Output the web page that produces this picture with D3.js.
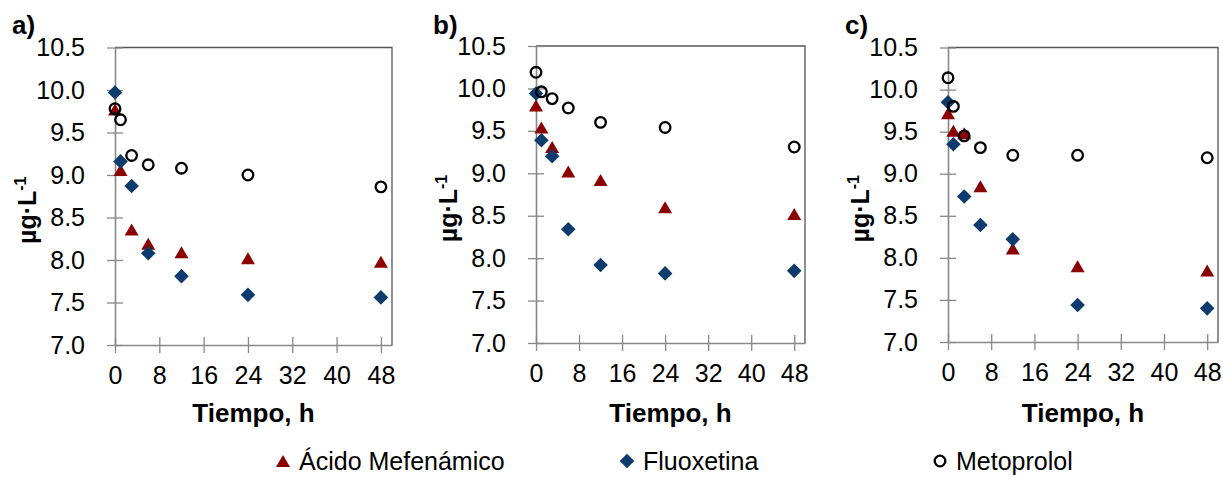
<!DOCTYPE html>
<html><head><meta charset="utf-8">
<script src="https://cdn.jsdelivr.net/npm/d3@7"></script>
<style>
html,body{margin:0;padding:0;background:#fff;}
text{font-family:"Liberation Sans",Arial,sans-serif;fill:#000;}
</style></head>
<body><svg id="chart" width="1223" height="477"></svg>
<script>
// ---- data ----
const times = [0, 1, 3, 6, 12, 24, 48];
const panelLabels = ["a)", "b)", "c)"];
const seriesNames = ["Ácido Mefenámico", "Fluoxetina", "Metoprolol"];
const xTicks = [0, 8, 16, 24, 32, 40, 48];
const yTicks = [7.0, 7.5, 8.0, 8.5, 9.0, 9.5, 10.0, 10.5];

const acidoA = [9.77, 9.06, 8.36, 8.19, 8.09, 8.02, 7.98];
const fluoxA = [9.97, 9.16, 8.87, 8.08, 7.81, 7.59, 7.56];
const metoA  = [9.78, 9.65, 9.23, 9.12, 9.08, 9.00, 8.86];

const acidoB = [9.80, 9.54, 9.31, 9.02, 8.92, 8.60, 8.52];
const fluoxB = [9.94, 9.39, 9.20, 8.34, 7.92, 7.82, 7.85];
const metoB  = [10.19, 9.96, 9.88, 9.77, 9.60, 9.54, 9.31];

const acidoC = [9.72, 9.51, 9.48, 8.85, 8.11, 7.90, 7.85];
const fluoxC = [9.85, 9.35, 8.73, 8.39, 8.22, 7.44, 7.40];
const metoC  = [10.14, 9.80, 9.45, 9.31, 9.22, 9.22, 9.19];

const panelData = [
  [acidoA, fluoxA, metoA],
  [acidoB, fluoxB, metoB],
  [acidoC, fluoxC, metoC]
];

// ---- layout ----
const boxes = [
  {l:115, r:392, t:47.5, b:345},
  {l:536, r:805, t:46, b:343},
  {l:948, r:1218, t:47.5, b:342}
];
const colors = ["#8B0000", "#0d3b6e", "#000"];
const svg = d3.select("#chart");
const FS = 25;

function drawMarker(g, type, x, y) {
  if (type === 0) {
    const s = 14, h = 12;
    g.append("path").attr("d", `M${x},${y-h/2}L${x+s/2},${y+h/2}L${x-s/2},${y+h/2}Z`)
      .attr("fill", colors[0]);
  } else if (type === 1) {
    const d = 7.3;
    g.append("path").attr("d", `M${x},${y-d}L${x+d},${y}L${x},${y+d}L${x-d},${y}Z`)
      .attr("fill", colors[1]);
  } else {
    g.append("circle").attr("cx", x).attr("cy", y).attr("r", 5.3)
      .attr("fill", "none").attr("stroke", "#000").attr("stroke-width", 2.3);
  }
}

boxes.forEach((bx, pi) => {
  const x = d3.scaleLinear().domain([0, 50]).range([bx.l, bx.r]);
  const y = d3.scaleLinear().domain([7, 10.5]).range([bx.b, bx.t]);
  const g = svg.append("g");

  g.append("path").attr("d", `M${bx.l},${bx.t}H${bx.r}V${bx.b}`)
    .attr("fill", "none").attr("stroke", "#555").attr("stroke-width", 1.3);

  const xa = g.append("g").attr("transform", `translate(0,${bx.b})`)
    .call(d3.axisBottom(x).tickValues(xTicks).tickSize(8).tickSizeOuter(0).tickPadding(13)
      .tickFormat(d3.format("d")));
  xa.select(".domain").attr("stroke", "#888").attr("stroke-width", 1.6);
  xa.selectAll(".tick line").attr("stroke", "#888").attr("stroke-width", 1.3).attr("y1", -8);
  xa.selectAll(".tick text").attr("font-size", FS).attr("font-family", "Liberation Sans, Arial, sans-serif")
    .attr("fill", "#000");

  const ya = g.append("g").attr("transform", `translate(${bx.l},0)`)
    .call(d3.axisLeft(y).tickValues(yTicks).tickSize(8).tickSizeOuter(0).tickPadding(22)
      .tickFormat(d3.format(".1f")));
  ya.select(".domain").attr("stroke", "#888").attr("stroke-width", 1.6);
  ya.selectAll(".tick line").attr("stroke", "#888").attr("stroke-width", 1.3).attr("x1", 8);
  ya.selectAll(".tick text").attr("font-size", FS).attr("font-family", "Liberation Sans, Arial, sans-serif")
    .attr("fill", "#000");

  g.append("text").attr("x", (bx.l + bx.r) / 2).attr("y", 422)
    .attr("text-anchor", "middle").attr("font-weight", "bold").attr("font-size", 26)
    .text("Tiempo, h");
  const yt = g.append("text")
    .attr("transform", `translate(${bx.l - 79},${(bx.t + bx.b) / 2 + 14}) rotate(-90)`)
    .attr("text-anchor", "middle").attr("font-weight", "bold").attr("font-size", FS);
  yt.append("tspan").text("µg·L");
  yt.append("tspan").attr("font-size", 16).attr("dy", -10).text("-1");

  g.append("text").attr("x", bx.l - 103).attr("y", 34).attr("font-weight", "bold")
    .attr("font-size", 26).text(panelLabels[pi]);

  const mg = g.append("g");
  panelData[pi].forEach((vals, si) => {
    vals.forEach((v, i) => drawMarker(mg, si, x(times[i]), y(v)));
  });
});

// legend
const legendX = [283, 627, 940];
const leg = svg.append("g");
seriesNames.forEach((n, i) => {
  drawMarker(leg, i, legendX[i], 461);
  leg.append("text").attr("x", legendX[i] + 16).attr("y", 470).attr("font-size", 25)
    .text(n);
});
</script></body></html>
